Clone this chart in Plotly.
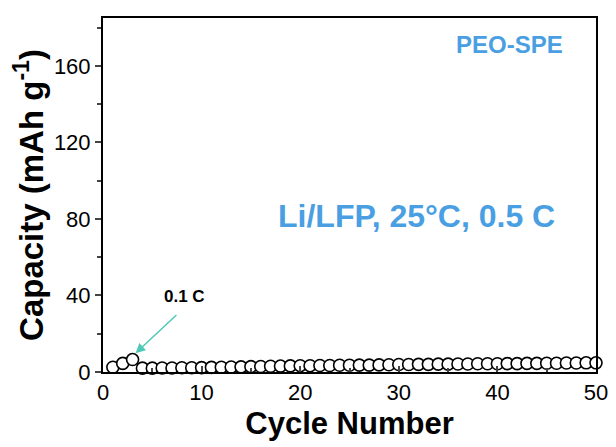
import plotly.graph_objects as go

cycles = list(range(1, 51))
capacity = [2.5, 4.5, 6.5, 2.0, 2.0, 2.1, 2.1, 2.2, 2.2, 2.3,
            2.4, 2.5, 2.6, 2.7, 2.8, 2.9, 3.0, 3.1, 3.2, 3.3,
            3.3, 3.4, 3.4, 3.5, 3.5, 3.6, 3.6, 3.7, 3.8, 3.9,
            3.9, 4.0, 4.0, 4.1, 4.1, 4.2, 4.2, 4.3, 4.3, 4.3,
            4.4, 4.4, 4.5, 4.5, 4.6, 4.6, 4.7, 4.7, 4.8, 4.8]

x_ticks = [0, 10, 20, 30, 40, 50]
y_ticks = [0, 40, 80, 120, 160]

FONT = "Liberation Sans, Arial, sans-serif"
BLUE = "#4a9fe3"

fig = go.Figure()
fig.add_trace(go.Scatter(
    x=cycles, y=capacity, mode="markers",
    marker=dict(symbol="circle", size=12, color="white",
                line=dict(color="black", width=1.6)),
    cliponaxis=False, showlegend=False,
))

fig.update_layout(
    width=608, height=439,
    margin=dict(l=95, r=19, t=8, b=75),
    paper_bgcolor="white", plot_bgcolor="white",
    font=dict(family=FONT, color="black"),
    xaxis=dict(range=[0, 50], tickvals=x_ticks, ticks="inside", ticklen=6,
               tickwidth=1.5, showline=True, linewidth=2, linecolor="black",
               mirror=True, showgrid=False, zeroline=False,
               tickfont=dict(size=22, family=FONT),
               minor=dict(dtick=5, ticks="inside", ticklen=4, tickwidth=1.5),
               title=dict(text="<b>Cycle Number</b>", font=dict(size=31, family=FONT), standoff=8)),
    yaxis=dict(range=[0, 185], tickvals=y_ticks, ticks="outside", ticklen=6,
               tickwidth=1.5, showline=True, linewidth=2, linecolor="black",
               mirror=True, showgrid=False, zeroline=False,
               tickfont=dict(size=22, family=FONT),
               minor=dict(dtick=20, ticks="outside", ticklen=4, tickwidth=1.5),
               title=dict(text="<b>Capacity (mAh g<sup>-1</sup>)</b>", font=dict(size=33, family=FONT), standoff=0)),
    annotations=[
        dict(x=0.824, y=0.924, xref="paper", yref="paper", xanchor="center", yanchor="middle",
             text="<b>PEO-SPE</b>",
             showarrow=False, font=dict(size=24, color=BLUE, family=FONT)),
        dict(x=0.636, y=0.441, xref="paper", yref="paper", xanchor="center", yanchor="middle",
             text="<b>Li/LFP, 25°C, 0.5 C</b>",
             showarrow=False, font=dict(size=32, color=BLUE, family=FONT)),
        dict(x=8.3, y=39.5, xref="x", yref="y", text="<b>0.1 C</b>", showarrow=False,
             font=dict(size=17, color="black", family=FONT)),
        dict(x=3.3, y=9.8, xref="x", yref="y", ax=7.6, ay=30.5, axref="x", ayref="y",
             text="", showarrow=True, arrowhead=2, arrowsize=1.3, arrowwidth=1.5,
             arrowcolor="#4fc8b6"),
    ],
)

fig.write_html("out.html")
